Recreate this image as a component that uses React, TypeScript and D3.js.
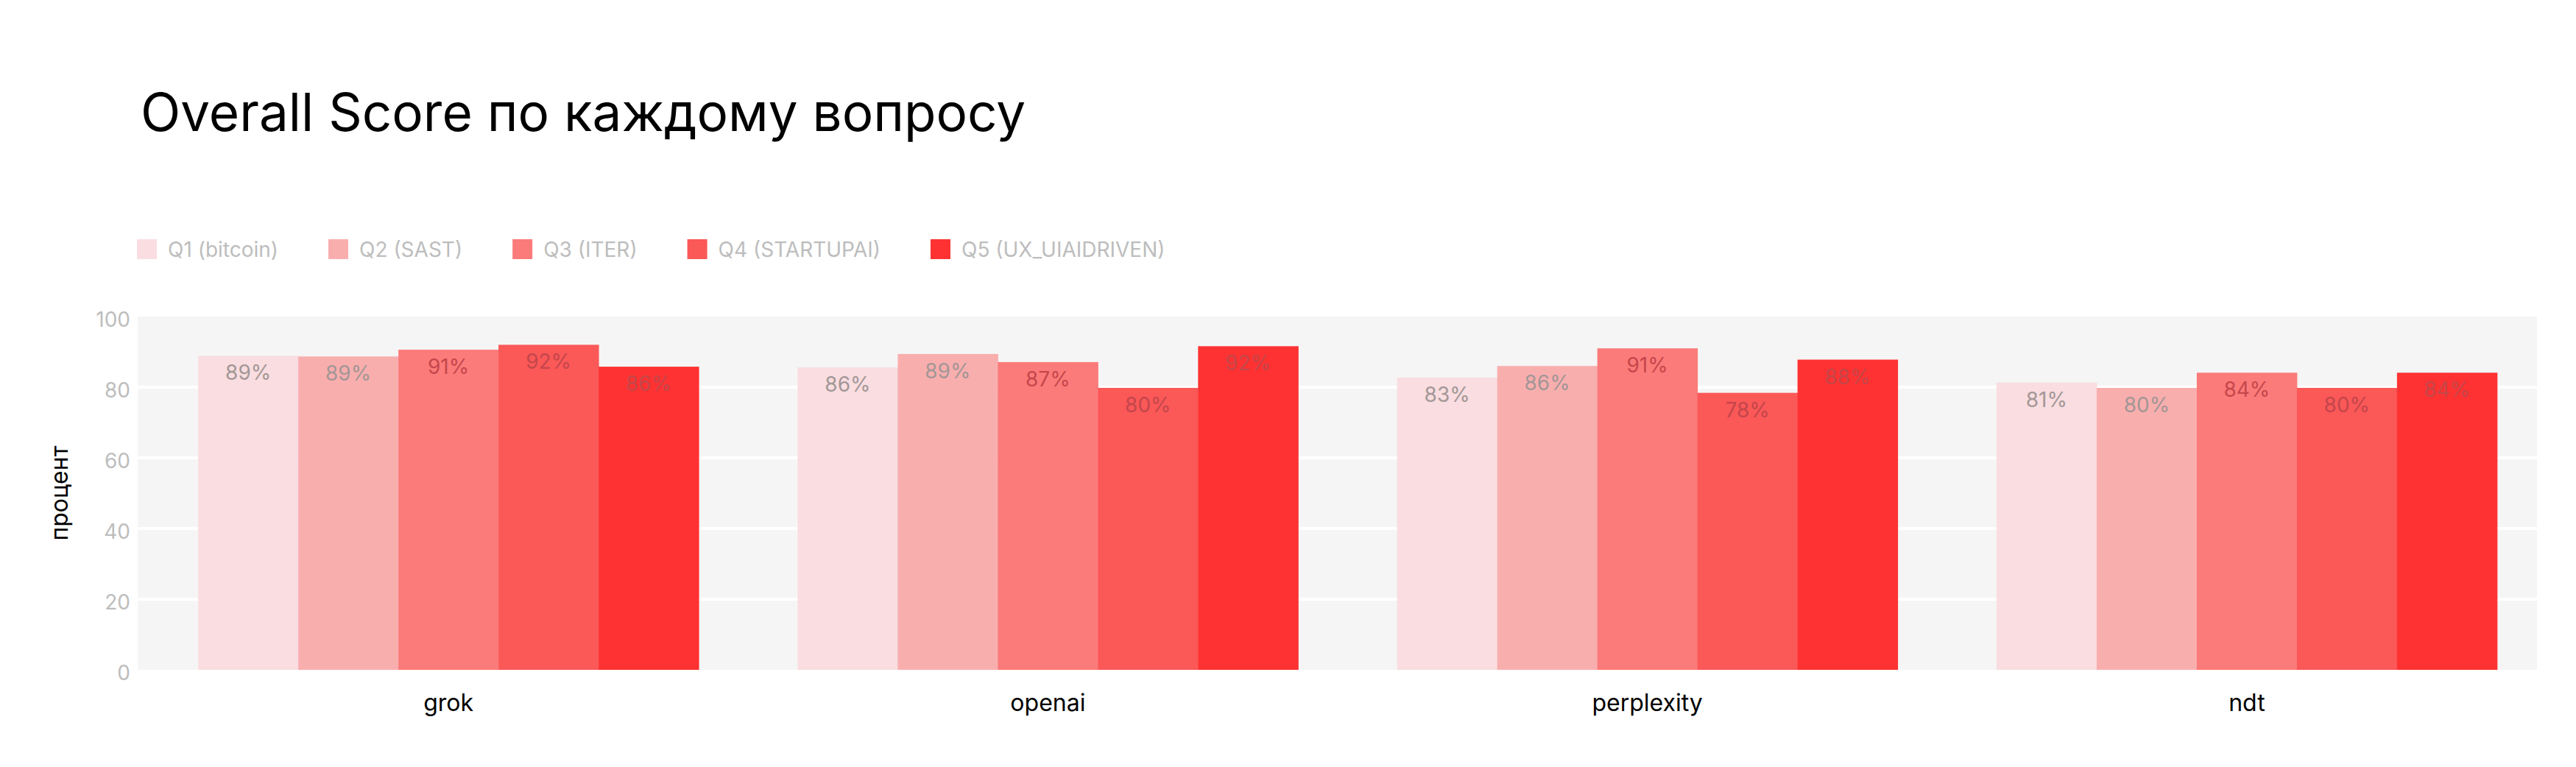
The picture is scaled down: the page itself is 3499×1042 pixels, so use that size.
import React, { useEffect, useRef } from "react";
import * as d3 from "d3";

const models = ["grok", "openai", "perplexity", "ndt"];
const questions = [
  "Q1 (bitcoin)",
  "Q2 (SAST)",
  "Q3 (ITER)",
  "Q4 (STARTUPAI)",
  "Q5 (UX_UIAIDRIVEN)",
];
// score per model, one array per question
const q1Scores = [88.9, 85.6, 82.7, 81.3];
const q2Scores = [88.7, 89.4, 86.0, 79.8];
const q3Scores = [90.6, 87.1, 91.0, 84.1];
const q4Scores = [92.0, 79.8, 78.4, 79.8];
const q5Scores = [85.8, 91.6, 87.8, 84.1];
const yTicks = [0, 20, 40, 60, 80, 100];

const barColors = ["#f9dde0", "#f9aeae", "#fb7b7a", "#fb5858", "#fe3232"];
const labelColors = ["#a39797", "#a39696", "#c5474c", "#c4464b", "#c4464a"];

const FONT = "Inter, 'Noto Sans', sans-serif";

export default function App() {
  const ref = useRef<SVGSVGElement>(null);

  useEffect(() => {
    document.body.style.margin = "0";
    if (!ref.current) return;
    const svg = d3.select(ref.current);
    svg.selectAll("*").remove();

    const width = 3499;
    const height = 1042;
    const panel = { left: 187, right: 3446, top: 430, bottom: 910 };

    const series = [q1Scores, q2Scores, q3Scores, q4Scores, q5Scores];

    svg.attr("width", width).attr("height", height).style("font-family", FONT);

    // title
    svg
      .append("text")
      .attr("x", 191)
      .attr("y", 178)
      .style("font-size", "71px")
      .style("fill", "#000")
      .text("Overall Score по каждому вопросу");

    // legend
    const legend = svg.append("g").attr("transform", "translate(186,325)");
    let lx = 0;
    questions.forEach((q, i) => {
      const g = legend.append("g").attr("transform", `translate(${lx},0)`);
      g.append("rect")
        .attr("width", 27)
        .attr("height", 27)
        .attr("fill", barColors[i]);
      const t = g
        .append("text")
        .attr("x", 42)
        .attr("y", 24)
        .style("font-size", "28px")
        .style("fill", "#bdbdbd")
        .text(q);
      const w = (t.node() as SVGTextElement).getComputedTextLength();
      lx += 42 + w + 68;
    });

    const y = d3.scaleLinear().domain([0, 100]).range([panel.bottom, panel.top]);
    const x0 = d3
      .scaleBand<string>()
      .domain(models)
      .range([202, 3459])
      .paddingInner(0.165)
      .paddingOuter(0.0825);
    const x1 = d3
      .scaleBand<string>()
      .domain(questions)
      .range([0, x0.bandwidth()]);

    // panel + grid
    svg
      .append("rect")
      .attr("x", panel.left)
      .attr("y", panel.top)
      .attr("width", panel.right - panel.left)
      .attr("height", panel.bottom - panel.top)
      .attr("fill", "#f5f5f5");

    svg
      .append("g")
      .selectAll("line")
      .data(yTicks.filter((d) => d > 0 && d < 100))
      .enter()
      .append("line")
      .attr("x1", panel.left)
      .attr("x2", panel.right)
      .attr("y1", (d) => y(d))
      .attr("y2", (d) => y(d))
      .attr("stroke", "#ffffff")
      .attr("stroke-width", 4);

    // y tick labels
    svg
      .append("g")
      .selectAll("text")
      .data(yTicks)
      .enter()
      .append("text")
      .attr("x", 177)
      .attr("y", (d) => y(d) + 4)
      .attr("text-anchor", "end")
      .attr("dominant-baseline", "central")
      .style("font-size", "28px")
      .style("fill", "#bdbdbd")
      .text((d) => d);

    // y axis title
    svg
      .append("text")
      .attr("transform", `translate(80,${(panel.top + panel.bottom) / 2}) rotate(-90)`)
      .attr("text-anchor", "middle")
      .attr("dominant-baseline", "central")
      .style("font-size", "32px")
      .style("fill", "#000")
      .text("процент");

    // bars
    const groups = svg
      .append("g")
      .selectAll("g")
      .data(models)
      .enter()
      .append("g")
      .attr("transform", (m) => `translate(${x0(m)},0)`);

    groups.each(function (m, mi) {
      const g = d3.select(this);
      questions.forEach((q, qi) => {
        const v = series[qi][mi];
        g.append("rect")
          .attr("x", x1(q)!)
          .attr("y", y(v))
          .attr("width", x1.bandwidth() + 0.5)
          .attr("height", y(0) - y(v))
          .attr("fill", barColors[qi]);
        g.append("text")
          .attr("x", x1(q)! + x1.bandwidth() / 2)
          .attr("y", y(v) + 33)
          .attr("text-anchor", "middle")
          .style("font-size", "28px")
          .style("fill", labelColors[qi])
          .text(`${Math.round(v)}%`);
      });
    });

    // x labels
    svg
      .append("g")
      .selectAll("text")
      .data(models)
      .enter()
      .append("text")
      .attr("x", (m) => x0(m)! + x0.bandwidth() / 2)
      .attr("y", 966)
      .attr("text-anchor", "middle")
      .style("font-size", "32px")
      .style("fill", "#000")
      .text((m) => m);
  }, []);

  return <svg ref={ref} style={{ display: "block" }} />;
}
